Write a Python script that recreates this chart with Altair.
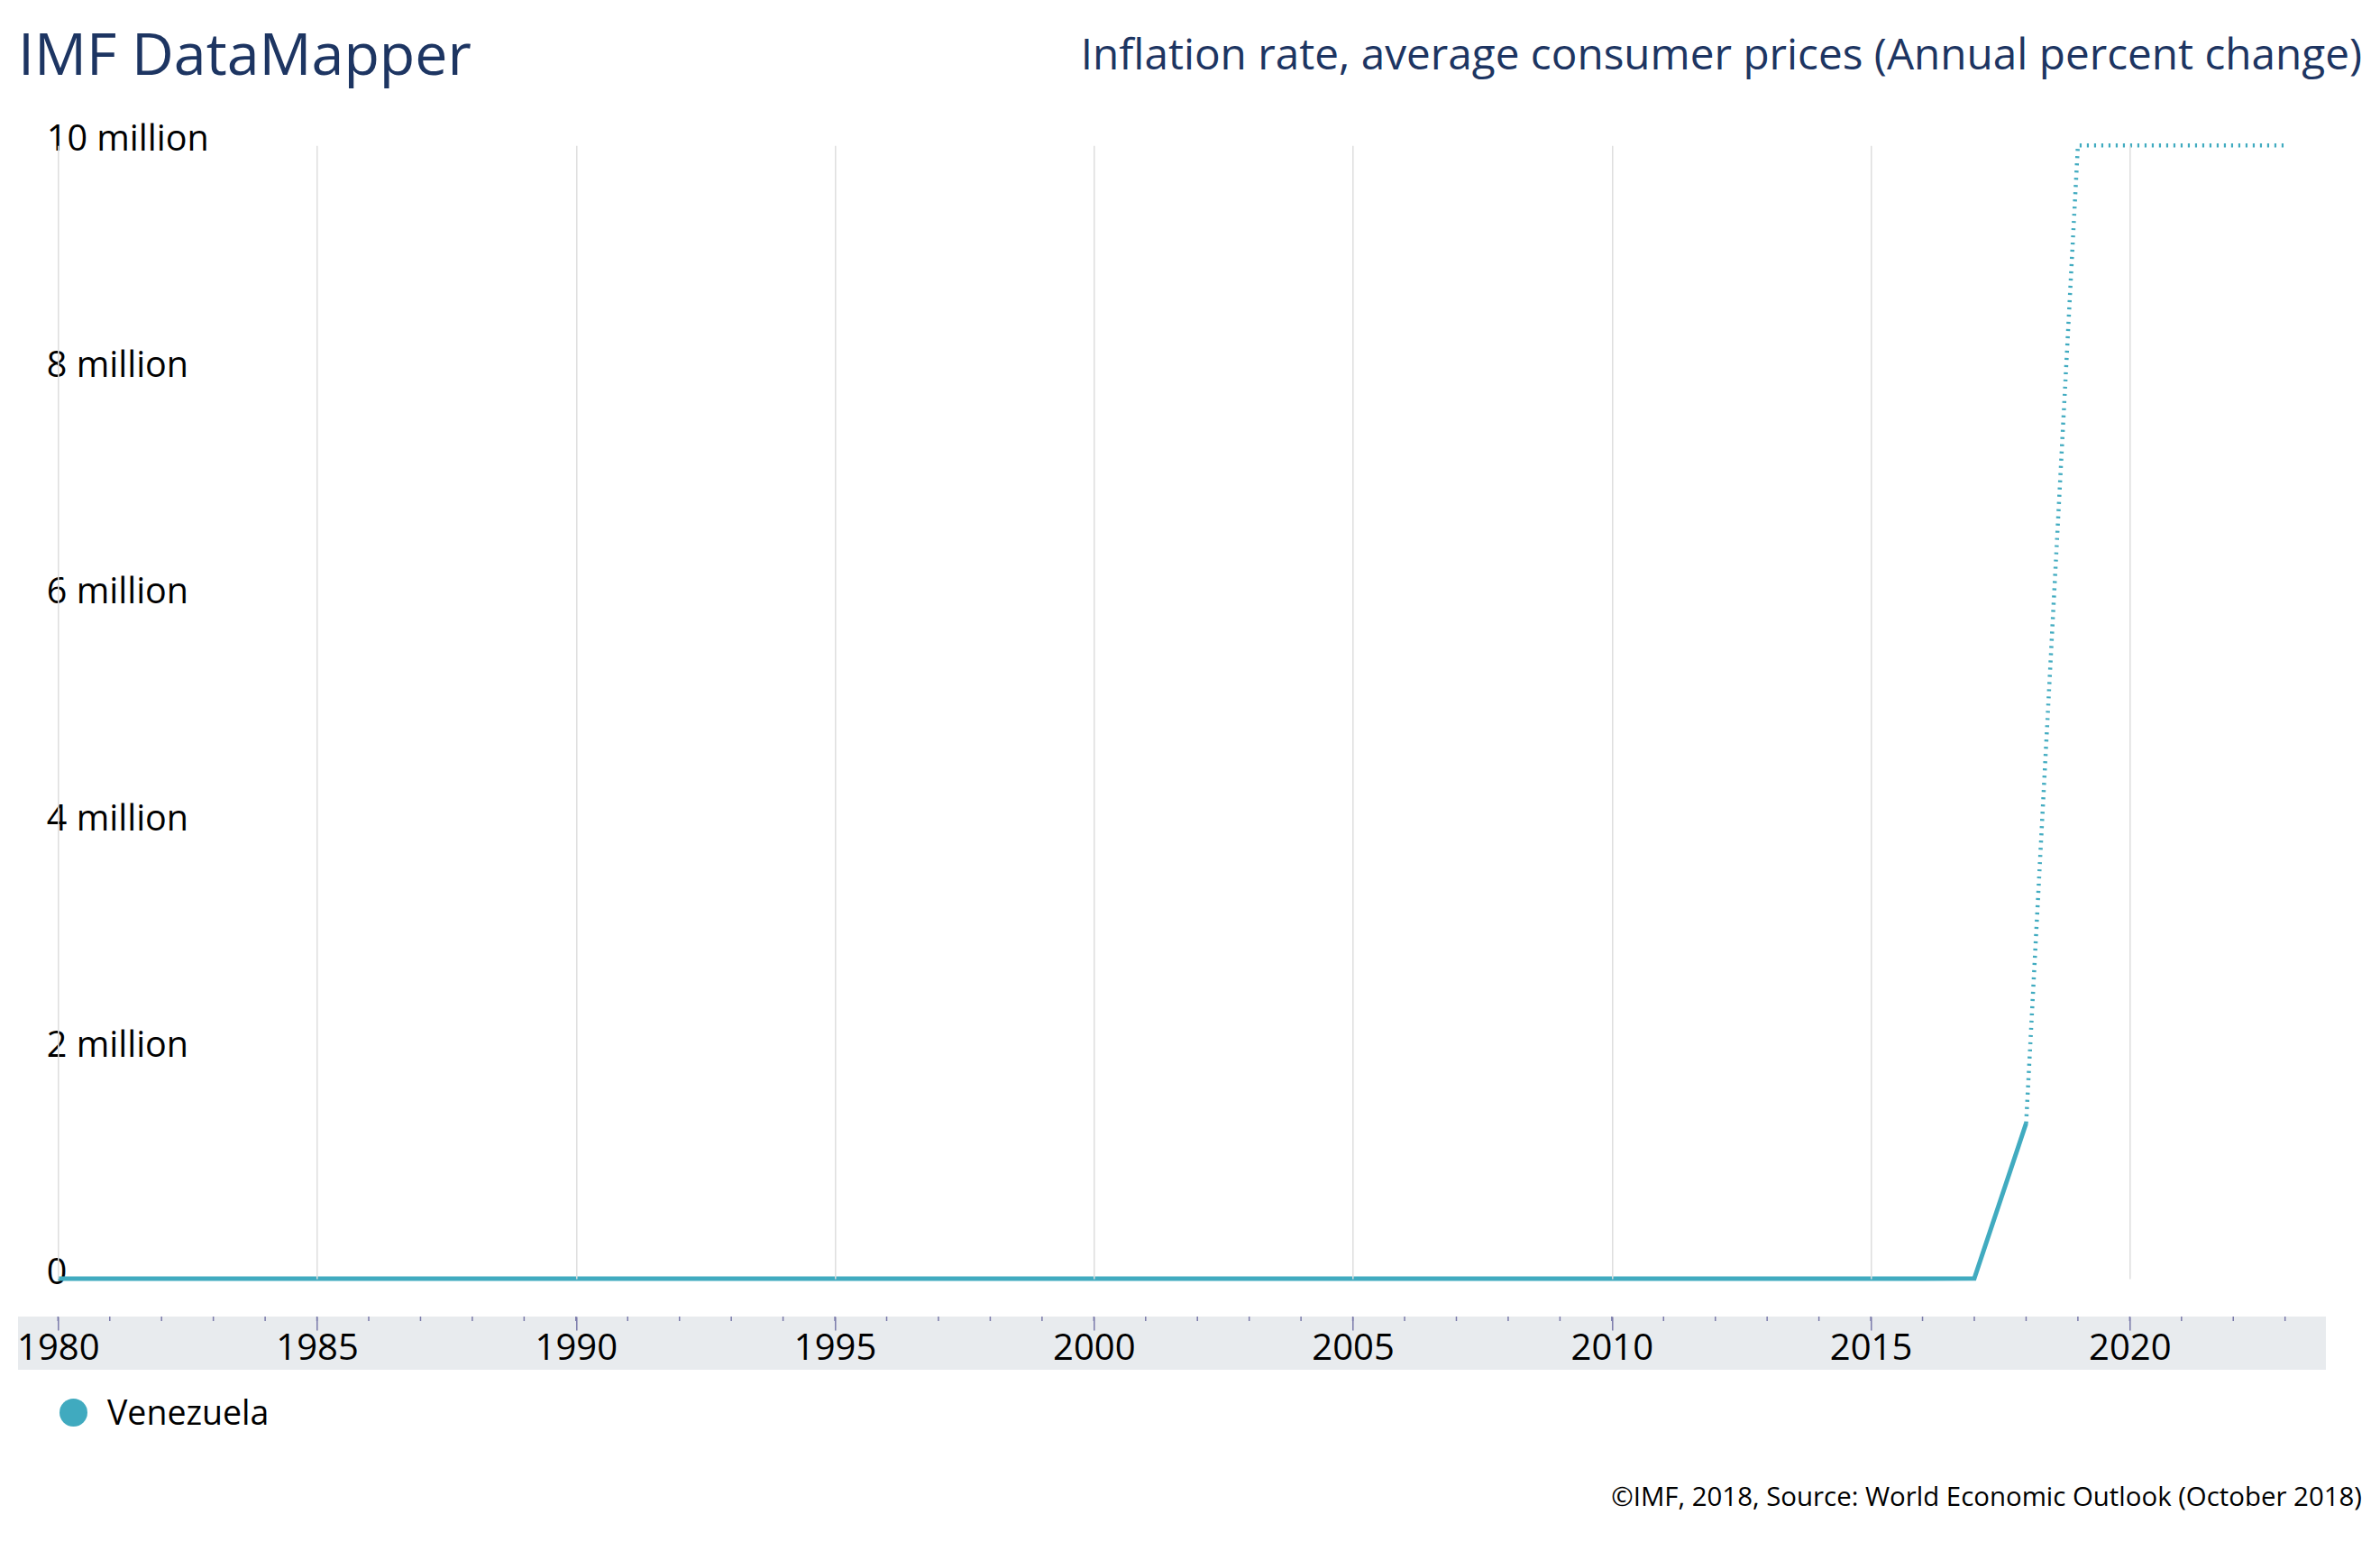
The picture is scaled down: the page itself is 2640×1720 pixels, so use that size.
import altair as alt
import pandas as pd

# ---- data (IMF WEO October 2018, Venezuela, annual % change in CPI) ----
years = list(range(1980, 2024))
inflation = [21.5, 16.2, 9.6, 6.3, 12.2, 11.4, 11.5, 28.1, 29.5, 84.5,
             40.7, 34.2, 31.4, 38.1, 60.8, 59.9, 99.9, 50.0, 35.8, 23.6,
             16.2, 12.5, 22.4, 31.1, 21.7, 16.0, 13.7, 18.7, 31.4, 26.0,
             28.2, 26.1, 21.1, 43.5, 57.3, 111.8, 254.9, 1087.5, 1370000.0, 10000000.0,
             10000000.0, 10000000.0, 10000000.0, 10000000.0]
last_actual = 2018
country = "Venezuela"
x_tick_labels = list(range(1980, 2021, 5))
y_tick_values = [0, 2000000, 4000000, 6000000, 8000000, 10000000]
title_text = "IMF DataMapper"
subtitle_text = "Inflation rate, average consumer prices (Annual percent change)"
footer_text = "\u00a9IMF, 2018, Source: World Economic Outlook (October 2018)"

# ---- styling ----
FONT = "Open Sans"
LINE = "#41abc0"
NAVY = "#1d3562"
W = 2470.4
H = 1256.7

df = pd.DataFrame({"year": years, "value": inflation, "country": country})
solid = df[df.year <= last_actual]
dotted = df[df.year >= last_actual]

xscale = alt.Scale(domain=[1980, 2023], nice=False, zero=False)
yscale = alt.Scale(domain=[0, 10000000], nice=False)

xaxis = alt.Axis(values=x_tick_labels, format="d", title=None, grid=True,
                 gridColor="#dedede", gridWidth=1.5, domain=False,
                 tickColor="#7a7aaa", tickSize=15, tickWidth=1.5,
                 labelFont=FONT, labelFontSize=40, labelColor="#000000",
                 labelPadding=32, labelBaseline="alphabetic", labelFlush=False,
                 labelOverlap=False, offset=42, zindex=1)
yaxis = alt.Axis(values=y_tick_values, title=None, grid=False, domain=False,
                 ticks=False, tickSize=0, labelAlign="left", labelPadding=13,
                 labelBaseline="alphabetic", labelOffset=5,
                 labelFont=FONT, labelFontSize=39.5, labelColor="#000000",
                 labelExpr="datum.value == 0 ? '0' : format(datum.value/1000000, 'd') + ' million'")

one = pd.DataFrame({"k": [0]})

band = alt.Chart(one).mark_rect(color="#e8ebee").encode(
    x=alt.value(-44.3), x2=alt.value(2515.7),
    y=alt.value(H + 42), y2=alt.value(H + 101))

minor = alt.Chart(df).mark_rule(color="#7a7aaa", strokeWidth=1.5).encode(
    x=alt.X("year:Q", scale=xscale, axis=xaxis),
    y=alt.value(H + 42), y2=alt.value(H + 47))

line_solid = alt.Chart(solid).mark_line(color=LINE, strokeWidth=5).encode(
    x=alt.X("year:Q", scale=xscale, axis=xaxis),
    y=alt.Y("value:Q", scale=yscale, axis=yaxis))

line_dot = alt.Chart(dotted).mark_line(color=LINE, strokeWidth=4.5,
                                        strokeDash=[2.2, 5.8]).encode(
    x=alt.X("year:Q", scale=xscale, axis=xaxis),
    y=alt.Y("value:Q", scale=yscale, axis=yaxis))

leg = pd.DataFrame({"country": [country]})
leg_dot = alt.Chart(leg).mark_point(filled=True, shape="circle", size=960,
                                    color="#40aabf", opacity=1).encode(
    x=alt.value(17.2), y=alt.value(H + 148.5))
leg_txt = alt.Chart(leg).mark_text(font=FONT, fontSize=37.5, color="#000000",
                                   align="left", baseline="alphabetic").encode(
    x=alt.value(54.7), y=alt.value(H + 162), text="country:N")

t1 = alt.Chart(pd.DataFrame({"t": [title_text]})).mark_text(
    font=FONT, fontSize=64.5, color=NAVY, align="left", baseline="alphabetic").encode(
    x=alt.value(-44.3), y=alt.value(-78), text="t:N")
t2 = alt.Chart(pd.DataFrame({"t": [subtitle_text]})).mark_text(
    font=FONT, fontSize=47.7, color=NAVY, align="right", baseline="alphabetic").encode(
    x=alt.value(2555.7), y=alt.value(-84), text="t:N")
t3 = alt.Chart(pd.DataFrame({"t": [footer_text]})).mark_text(
    font=FONT, fontSize=29.4, color="#000000", align="right", baseline="alphabetic").encode(
    x=alt.value(2555.7), y=alt.value(H + 252), text="t:N")

chart = alt.layer(band, minor, line_solid, line_dot, leg_dot, leg_txt, t1, t2, t3).properties(
    width=W, height=H,
    autosize=alt.AutoSizeParams(type="none"),
    padding={"left": 56.3, "top": 153.3, "right": 97.3, "bottom": 294},
    background="#ffffff",
).configure_view(stroke=None)

chart.save("out.html", embed_options={"renderer": "svg", "actions": False})
